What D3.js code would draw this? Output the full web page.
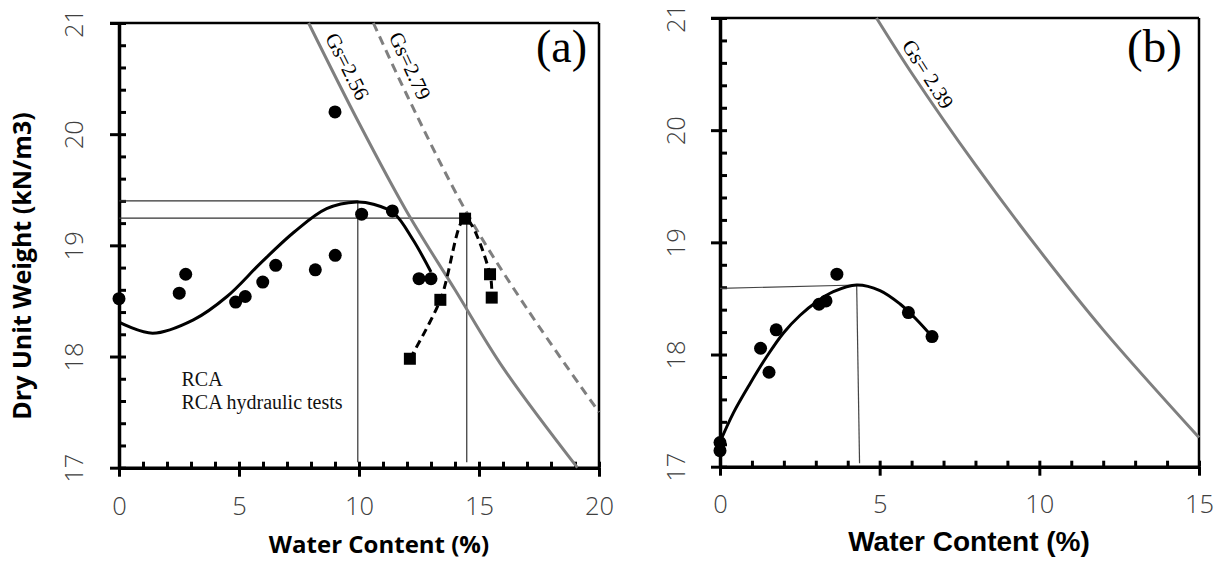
<!DOCTYPE html>
<html>
<head>
<meta charset="utf-8">
<script src="https://cdn.jsdelivr.net/npm/d3@7"></script>
<style>
  html, body { margin: 0; padding: 0; background: #fff; }
  svg { display: block; }
</style>
</head>
<body>
<svg id="chart" width="1220" height="567"></svg>
<script>
// ---------- Panel (a): RCA compaction ----------
const rcaWater = [0, 2.51, 2.78, 4.86, 5.26, 5.99, 6.53, 8.18, 9.01, 9.0, 10.11, 11.39, 12.5, 13.0];
const rcaDry   = [18.52, 18.57, 18.74, 18.49, 18.54, 18.67, 18.82, 18.78, 18.91, 20.20, 19.28, 19.31, 18.70, 18.70];

const hydWater = [12.12, 13.39, 14.42, 15.46, 15.53];
const hydDry   = [17.98, 18.51, 19.24, 18.74, 18.53];

// fitted compaction curve for RCA
const rcaFitWater = [0, 1.4, 3.1, 4.5, 5.9, 7.3, 8.65, 9.9, 10.6, 11.45, 12.25, 13.0];
const rcaFitDry   = [18.31, 18.21, 18.33, 18.54, 18.84, 19.12, 19.33, 19.39, 19.37, 19.29, 19.05, 18.76];

// zero-air-voids lines
const gs256Water = [7.9, 10, 12, 14, 16, 19.1];
const gs256Dry   = [21.0, 20.1, 19.3, 18.6, 17.9, 17.0];
const gs279Water = [10.6, 12, 14.5, 17, 20];
const gs279Dry   = [21.0, 20.35, 19.29, 18.43, 17.5];

// optimum markers (water content, dry unit weight)
const optA = [[9.95, 19.40], [14.49, 19.245]];

const xTicksA = [0, 5, 10, 15, 20];
const yTicks  = [17, 18, 19, 20, 21];

// ---------- Panel (b) ----------
const bWater = [0, 0, 1.27, 1.535, 1.76, 3.10, 3.32, 3.66, 5.90, 6.64];
const bDry   = [17.215, 17.143, 18.056, 17.842, 18.22, 18.448, 18.478, 18.716, 18.374, 18.16];

const bFitWater = [0, 0.42, 0.94, 1.46, 1.98, 2.51, 3.03, 3.55, 4.28, 5.01, 5.64, 6.16, 6.64];
const bFitDry   = [17.22, 17.48, 17.74, 17.98, 18.19, 18.35, 18.47, 18.56, 18.62, 18.57, 18.45, 18.31, 18.16];

const gs239Water = [4.9, 6, 8, 10, 12, 15];
const gs239Dry   = [21.0, 20.51, 19.69, 18.93, 18.22, 17.26];

const optBHoriz = [[0, 18.59], [4.28, 18.62]];
const optBVert  = [[4.28, 18.62], [4.37, 17.03]];

const xTicksB = [0, 5, 10, 15];

// ---------- drawing ----------
const svg = d3.select("#chart");
const zip = (a, b) => a.map((v, i) => [v, b[i]]);
const range = (lo, hi, step) => d3.range(lo, hi + step / 2, step).map(v => +v.toFixed(3));
const tickFont = "'Open Sans', sans-serif";

function makePanel(cfg) {
  const x = d3.scaleLinear().domain(cfg.xDomain).range([cfg.left, cfg.right]);
  const y = d3.scaleLinear().domain([17, 21]).range([cfg.bottom, cfg.top]);
  const g = svg.append("g");

  // frame: top and right
  g.append("line").attr("x1", x(cfg.xDomain[0]) - 9).attr("x2", x(cfg.xDomain[1]))
    .attr("y1", y(21)).attr("y2", y(21)).attr("stroke", "#000").attr("stroke-width", 2.5);
  g.append("line").attr("x1", x(cfg.xDomain[1])).attr("x2", x(cfg.xDomain[1]))
    .attr("y1", y(21)).attr("y2", y(17)).attr("stroke", "#000").attr("stroke-width", 2.5);

  // x axis: outer major ticks with labels
  const xMinor = range(cfg.xDomain[0], cfg.xDomain[1], 1);
  const gx = g.append("g").attr("transform", `translate(0,${y(17)})`)
    .call(d3.axisBottom(x).tickValues(cfg.xTicks).tickSizeInner(9).tickSizeOuter(0).tickFormat(d3.format("d")));
  gx.select(".domain").attr("stroke-width", 3.5);
  gx.selectAll(".tick line").attr("stroke-width", 3);
  gx.selectAll(".tick text").attr("y", cfg.xLabelOffset).attr("dy", 0)
    .attr("font-family", tickFont).attr("font-weight", 300)
    .attr("font-size", 25.5).attr("fill", "#404040");
  // inner ticks every 1 %
  g.append("g").attr("transform", `translate(0,${y(17)})`)
    .call(d3.axisBottom(x).tickValues(xMinor).tickSize(-6).tickFormat(""))
    .call(s => s.select(".domain").remove())
    .selectAll(".tick line").attr("stroke-width", 3);

  // y axis
  const yMinor = range(17, 21, 0.2);
  const gy = g.append("g").attr("transform", `translate(${x(cfg.xDomain[0])},0)`)
    .call(d3.axisLeft(y).tickValues(yTicks).tickSizeInner(9).tickSizeOuter(0).tickFormat(d3.format("d")));
  gy.select(".domain").attr("stroke-width", 3.5);
  gy.selectAll(".tick line").attr("stroke-width", 3);
  gy.selectAll(".tick text")
    .attr("x", 0).attr("y", 0).attr("dy", 0)
    .attr("transform", `translate(${-cfg.yLabelOffset},0) rotate(-90)`)
    .attr("text-anchor", "middle")
    .attr("font-family", tickFont).attr("font-weight", 300)
    .attr("font-size", 25.5).attr("fill", "#404040");
  g.append("g").attr("transform", `translate(${x(cfg.xDomain[0])},0)`)
    .call(d3.axisLeft(y).tickValues(yMinor).tickSize(-7).tickFormat(""))
    .call(s => s.select(".domain").remove())
    .selectAll(".tick line").attr("stroke-width", 3);

  return { g, x, y };
}

function lineGen(p, curve) {
  return d3.line().x(d => p.x(d[0])).y(d => p.y(d[1])).curve(curve || d3.curveLinear);
}

function alongLabel(p, ws, gds, t, offset, text) {
  const x0 = p.x(ws[0]), y0 = p.y(gds[0]), x1 = p.x(ws[1]), y1 = p.y(gds[1]);
  const dx = x1 - x0, dy = y1 - y0, len = Math.hypot(dx, dy);
  const nx = dy / len, ny = -dx / len;
  const px = x0 + dx * t + nx * offset, py = y0 + dy * t + ny * offset;
  const ang = Math.atan2(dy, dx) * 180 / Math.PI;
  p.g.append("text")
    .attr("transform", `translate(${px},${py}) rotate(${ang})`)
    .attr("font-family", "'Liberation Serif', 'Times New Roman', serif")
    .attr("font-size", 21).attr("fill", "#000")
    .text(text);
}

// ===== Panel (a) =====
const pa = makePanel({ xDomain: [0, 20], xTicks: xTicksA, left: 119, right: 599, top: 23, bottom: 467.7,
                       xLabelOffset: 47.5, yLabelOffset: 36 });

// optimum reference lines
optA.forEach(([w, gd]) => {
  pa.g.append("path").attr("d", lineGen(pa)([[0, gd], [w, gd], [w, 17.05]]))
    .attr("fill", "none").attr("stroke", "#333").attr("stroke-width", 1.2);
});

// zero-air-voids lines
pa.g.append("path").attr("d", lineGen(pa, d3.curveCatmullRom)(zip(gs256Water, gs256Dry)))
  .attr("fill", "none").attr("stroke", "#7f7f7f").attr("stroke-width", 3);
pa.g.append("path").attr("d", lineGen(pa, d3.curveCatmullRom)(zip(gs279Water, gs279Dry)))
  .attr("fill", "none").attr("stroke", "#7f7f7f").attr("stroke-width", 3).attr("stroke-dasharray", "9,6");
alongLabel(pa, gs256Water, gs256Dry, 0.18, 8, "Gs=2.56");
alongLabel(pa, gs279Water, gs279Dry, 0.23, 8, "Gs=2.79");

// fitted compaction curve
pa.g.append("path").attr("d", lineGen(pa, d3.curveCatmullRom)(zip(rcaFitWater, rcaFitDry)))
  .attr("fill", "none").attr("stroke", "#000").attr("stroke-width", 3);

// hydraulic tests series
pa.g.append("path").attr("d", lineGen(pa, d3.curveCatmullRom)(zip(hydWater, hydDry)))
  .attr("fill", "none").attr("stroke", "#000").attr("stroke-width", 3).attr("stroke-dasharray", "8,5");

pa.g.selectAll("circle.rca").data(zip(rcaWater, rcaDry)).join("circle")
  .attr("class", "rca").attr("cx", d => pa.x(d[0])).attr("cy", d => pa.y(d[1])).attr("r", 6.5).attr("fill", "#000");
pa.g.selectAll("rect.hyd").data(zip(hydWater, hydDry)).join("rect")
  .attr("class", "hyd").attr("x", d => pa.x(d[0]) - 6).attr("y", d => pa.y(d[1]) - 6)
  .attr("width", 12).attr("height", 12).attr("fill", "#000");

// legend text
const legend = pa.g.append("g").attr("font-family", "'Liberation Serif', 'Times New Roman', serif")
  .attr("font-size", 20).attr("fill", "#111");
legend.append("text").attr("x", 181.5).attr("y", 386).text("RCA");
legend.append("text").attr("x", 181.5).attr("y", 408.5).text("RCA hydraulic tests");

pa.g.append("text").attr("x", 536).attr("y", 62)
  .attr("font-family", "'Liberation Serif', 'Times New Roman', serif").attr("font-size", 46).text("(a)");

// axis titles
svg.append("text").attr("transform", "translate(31,266) rotate(-90)").attr("text-anchor", "middle")
  .attr("font-family", "'Open Sans', sans-serif").attr("font-weight", 700).attr("font-size", 25)
  .attr("fill", "#000").text("Dry Unit Weight (kN/m3)");
svg.append("text").attr("x", 379).attr("y", 553).attr("text-anchor", "middle")
  .attr("font-family", "'Open Sans', sans-serif").attr("font-weight", 700).attr("font-size", 24)
  .attr("fill", "#000").text("Water Content (%)");

// ===== Panel (b) =====
const pb = makePanel({ xDomain: [0, 15], xTicks: xTicksB, left: 720, right: 1199, top: 18, bottom: 466.7,
                       xLabelOffset: 46.5, yLabelOffset: 35 });

pb.g.append("path").attr("d", lineGen(pb)(optBHoriz))
  .attr("fill", "none").attr("stroke", "#444").attr("stroke-width", 1.2);
pb.g.append("path").attr("d", lineGen(pb)(optBVert))
  .attr("fill", "none").attr("stroke", "#444").attr("stroke-width", 1.2);

pb.g.append("path").attr("d", lineGen(pb, d3.curveCatmullRom)(zip(gs239Water, gs239Dry)))
  .attr("fill", "none").attr("stroke", "#7f7f7f").attr("stroke-width", 3);
alongLabel(pb, gs239Water, gs239Dry, 0.56, 6, "Gs= 2.39");

pb.g.append("path").attr("d", lineGen(pb, d3.curveCatmullRom)(zip(bFitWater, bFitDry)))
  .attr("fill", "none").attr("stroke", "#000").attr("stroke-width", 3);

pb.g.selectAll("circle.pt").data(zip(bWater, bDry)).join("circle")
  .attr("class", "pt").attr("cx", d => pb.x(d[0])).attr("cy", d => pb.y(d[1])).attr("r", 6.5).attr("fill", "#000");

pb.g.append("text").attr("x", 1127).attr("y", 62)
  .attr("font-family", "'Liberation Serif', 'Times New Roman', serif").attr("font-size", 47).text("(b)");

svg.append("text").attr("x", 969).attr("y", 551).attr("text-anchor", "middle")
  .attr("font-family", "'Liberation Sans', Arial, sans-serif").attr("font-weight", 700).attr("font-size", 28)
  .attr("fill", "#000").text("Water Content (%)");
</script>
</body>
</html>
